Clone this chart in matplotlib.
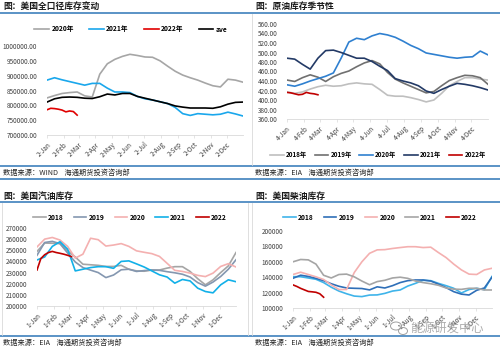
import numpy as np
import matplotlib.pyplot as plt
from matplotlib.lines import Line2D
from matplotlib.patches import Ellipse

plt.rcParams['font.family'] = ['Noto Sans CJK SC', 'DejaVu Sans']

# ---- data (biweekly points over the year, 2022 weekly) ----
months = ["Jan", "Feb", "Mar", "Apr", "May", "Jun", "Jul", "Aug", "Sep", "Oct", "Nov", "Dec"]
month_days = [0, 31, 59, 90, 120, 151, 181, 212, 243, 273, 304, 334]

# 美国全口径库存
tl_2020 = [825000, 833000, 840000, 843000, 845000, 832000, 828000, 905000, 940000, 955000, 965000, 972000, 968000, 963000,
           962000, 950000, 932000, 915000, 902000, 893000, 885000, 875000, 866000, 862000, 888000, 885000, 878000]
tl_2021 = [885000, 893000, 886000, 880000, 874000, 868000, 874000, 874000, 858000, 845000, 845000, 843000, 830000, 822000,
           818000, 812000, 806000, 793000, 772000, 766000, 772000, 770000, 768000, 770000, 777000, 771000, 764000]
tl_2022 = [785000, 790000, 789000, 787000, 784000, 778000, 781000, 779000, 767000]
tl_ave = [811000, 822000, 827000, 828000, 827000, 824000, 823000, 829000, 838000, 835000, 840000, 840000, 830000, 824000,
          818000, 812000, 806000, 798000, 794000, 791000, 791000, 791000, 790000, 795000, 804000, 810000, 811000]

# 原油库存季节性
tr_2018 = [417, 414, 417, 423, 428, 431, 429, 430, 434, 436, 434, 433, 422, 410,
           408, 408, 405, 401, 396, 400, 414, 430, 439, 447, 447, 444, 442]
tr_2019 = [442, 439, 447, 453, 448, 439, 449, 456, 461, 470, 478, 483, 476, 458,
           444, 436, 429, 422, 415, 418, 430, 441, 447, 452, 451, 447, 433]
tr_2020 = [432, 429, 434, 440, 445, 450, 457, 488, 522, 530, 527, 535, 540, 537,
           532, 524, 515, 508, 499, 496, 493, 490, 488, 490, 491, 503, 495]
tr_2021 = [488, 486, 475, 465, 488, 504, 505, 500, 494, 488, 488, 481, 471, 462,
           445, 440, 436, 430, 419, 414, 422, 429, 435, 433, 430, 426, 421]
tr_2022 = [416, 415, 413, 411, 412, 416, 414, 413, 411]

# 美国汽油库存
bl_2018 = [249000, 256500, 256300, 256000, 249500, 244000, 237500, 237000, 236500, 235500, 235500, 236500, 233000, 231500,
           231200, 232300, 232300, 234000, 235300, 235300, 231000, 224500, 219000, 223500, 230000, 236000, 248000]
bl_2019 = [245500, 257000, 258000, 256000, 247500, 239500, 234500, 232200, 230000, 225500, 227800, 232500, 233000, 231000,
           231800, 232300, 232000, 230800, 229800, 228500, 226000, 221000, 217800, 221500, 226500, 233000, 241500]
bl_2020 = [253000, 260000, 261500, 259200, 253500, 243000, 246500, 260800, 259500, 253800, 254700, 256000, 253500, 249500,
           248200, 247000, 244500, 238300, 232000, 231000, 229500, 227500, 226400, 229500, 235500, 238000, 235000]
bl_2021 = [241300, 244000, 253500, 257700, 251000, 231500, 233000, 234500, 235300, 235300, 233800, 240000, 240500, 237800,
           235000, 231500, 228000, 226000, 220500, 223800, 222500, 216000, 213000, 211800, 219000, 223500, 221800]
bl_2022 = [232300, 242500, 246000, 248000, 249000, 248000, 247300, 246500, 245500, 244300]

# 美国柴油库存
br_2018 = [140700, 140600, 139000, 137300, 133000, 127000, 122000, 118500, 115500, 114800, 116800, 117000, 119000, 122000,
           123400, 128500, 132000, 136000, 135500, 132000, 129000, 125600, 119500, 124000, 125600, 123800, 141000]
br_2019 = [138600, 142600, 141000, 138500, 135500, 131500, 128200, 126000, 125600, 125300, 123500, 127500, 126000, 129000,
           133000, 135500, 136400, 136400, 135000, 131000, 126500, 121200, 118000, 116900, 123000, 126000, 140000]
br_2020 = [143500, 146500, 143500, 140500, 137000, 130000, 124000, 124000, 146000, 160000, 171000, 175500, 175800, 177300,
           178500, 179600, 179600, 178500, 179000, 172000, 165500, 157000, 149500, 144000, 143500, 149400, 151600]
br_2021 = [160000, 163000, 162500, 157000, 142500, 139000, 143500, 144000, 140500, 135000, 130200, 134300, 136000, 139000,
           140000, 138500, 135000, 133000, 131500, 129500, 126000, 124500, 124200, 125600, 125600, 123400, 123400]
br_2022 = [130000, 128000, 125500, 123500, 121500, 121000, 120400, 118500, 114000]

W, H = 500, 350
BLUE = '#2e75b6'


def fx(x):
    return x / W


def fy(y):
    return 1 - y / H


def days(vals, step):
    return np.arange(len(vals)) * step


fig = plt.figure(figsize=(5, 3.5), dpi=100)


def panel(x0, x1, ytop, ybot, ylim, yticks, fmt, prefix):
    ax = fig.add_axes([fx(x0), fy(ybot), (x1 - x0) / W, (ybot - ytop) / H])
    ax.set_xlim(0, 364)
    ax.set_ylim(*ylim)
    ax.set_yticks(yticks)
    ax.set_yticklabels([fmt.format(v) for v in yticks], fontsize=4.6, color='#404040')
    ax.set_xticks(month_days)
    ax.set_xticklabels([f"{prefix}-{m}" for m in months], fontsize=4.6, color='#404040',
                       rotation=45, ha='right', rotation_mode='anchor')
    ax.tick_params(axis='y', length=0, pad=7)
    ax.tick_params(axis='x', length=2, width=0.5, color='#d9d9d9', pad=2)
    for s in ['top', 'right', 'left']:
        ax.spines[s].set_visible(False)
    ax.spines['bottom'].set_color('#d9d9d9')
    ax.spines['bottom'].set_linewidth(0.6)
    ax.patch.set_alpha(0)
    return ax


def add_legend(ax, cx, cy, ncol, size, hl, cs):
    ax.legend(loc='center', bbox_to_anchor=(fx(cx), fy(cy)), bbox_transform=fig.transFigure, ncol=ncol,
              frameon=False, prop={'size': size, 'weight': 'bold'}, handlelength=hl, columnspacing=cs,
              handletextpad=0.35, borderpad=0, borderaxespad=0)


lw = 1.2

# top-left
ax1 = panel(47, 243, 46, 135, (700000, 1000000), list(range(700000, 1000001, 50000)), "{:.2f}", "2")
ax1.plot(days(tl_2020, 14), tl_2020, color='#a6a6a6', lw=lw, label='2020年')
ax1.plot(days(tl_2021, 14), tl_2021, color='#1aa7ec', lw=lw, label='2021年')
ax1.plot(days(tl_2022, 7), tl_2022, color='#e00000', lw=lw, label='2022年')
ax1.plot(days(tl_ave, 14), tl_ave, color='black', lw=lw, label='ave')
add_legend(ax1, 131, 29, 4, 4.8, 2.2, 2.3)

# top-right
ax2 = panel(287, 488, 24, 119, (360, 560), list(range(360, 561, 20)), "{:.2f}", "4")
ax2.plot(days(tr_2018, 14), tr_2018, color='#bfbfbf', lw=lw, label='2018年')
ax2.plot(days(tr_2019, 14), tr_2019, color='#707070', lw=lw, label='2019年')
ax2.plot(days(tr_2020, 14), tr_2020, color='#2f80d0', lw=lw, label='2020年')
ax2.plot(days(tr_2021, 14), tr_2021, color='#233a66', lw=lw, label='2021年')
ax2.plot(days(tr_2022, 7), tr_2022, color='#c00000', lw=lw, label='2022年')
add_legend(ax2, 378, 155, 5, 4.5, 2.2, 1.2)

# bottom-left
ax3 = panel(37, 236, 228, 306, (200000, 270000), list(range(200000, 270001, 10000)), "{:d}", "1")
ax3.plot(days(bl_2018, 14), bl_2018, color='#a5a5a5', lw=lw, label='2018')
ax3.plot(days(bl_2019, 14), bl_2019, color='#8497b0', lw=lw, label='2019')
ax3.plot(days(bl_2020, 14), bl_2020, color='#f4b0b0', lw=lw, label='2020')
ax3.plot(days(bl_2021, 14), bl_2021, color='#12b0e8', lw=lw, label='2021')
ax3.plot(days(bl_2022, 7), bl_2022, color='#c00000', lw=lw, label='2022')
add_legend(ax3, 130, 217, 5, 4.8, 1.9, 1.5)

# bottom-right
ax4 = panel(293, 492, 231, 308, (100000, 200000), list(range(100000, 200001, 20000)), "{:d}", "1")
ax4.plot(days(br_2018, 14), br_2018, color='#3fb4ea', lw=lw, label='2018')
ax4.plot(days(br_2019, 14), br_2019, color='#2f6fb8', lw=lw, label='2019')
ax4.plot(days(br_2020, 14), br_2020, color='#f4b0b0', lw=lw, label='2020')
ax4.plot(days(br_2021, 14), br_2021, color='#a5a5a5', lw=lw, label='2021')
ax4.plot(days(br_2022, 7), br_2022, color='#c00000', lw=lw, label='2022')
add_legend(ax4, 380, 217, 5, 4.8, 1.9, 1.5)

# frame lines
for y in [13, 166, 179, 202, 336]:
    fig.add_artist(Line2D([0, 1], [fy(y), fy(y)], color=BLUE, lw=1.1))
for x, ya, yb in [(252, 14, 165), (252, 203, 335), (2, 203, 335), (248, 203, 335)]:
    fig.add_artist(Line2D([fx(x), fx(x)], [fy(ya), fy(yb)], color='#d9d9d9', lw=0.6))

# titles and sources
tkw = dict(fontsize=6.3, fontweight='bold', va='center', ha='left', color='#1a1a1a')
fig.text(fx(3), fy(6), "图：美国全口径库存变动", **tkw)
fig.text(fx(255), fy(6), "图：原油库存季节性", **tkw)
fig.text(fx(3), fy(196), "图：美国汽油库存", **tkw)
fig.text(fx(255), fy(196), "图：美国柴油库存", **tkw)

skw = dict(fontsize=5.2, va='center', ha='left', color='#262626')
fig.text(fx(3), fy(173), "数据来源：WIND    海通期货投资咨询部", **skw)
fig.text(fx(255), fy(173), "数据来源：EIA    海通期货投资咨询部", **skw)
fig.text(fx(3), fy(343), "数据来源：EIA    海通期货投资咨询部", **skw)
fig.text(fx(255), fy(343), "数据来源：EIA    海通期货投资咨询部", **skw)

# watermark
fig.text(fx(410), fy(329), "能源研发中心", fontsize=8.8, color='#9a9a9a', alpha=0.8, va='center', ha='left')
fig.add_artist(Ellipse((fx(396), fy(326)), 11 / W, 8 / H, fill=False, ec='#a0a0a0', lw=0.7))
fig.add_artist(Ellipse((fx(403), fy(331)), 9 / W, 7 / H, fill=False, ec='#a0a0a0', lw=0.7))

fig.savefig("out.png", dpi=100)
